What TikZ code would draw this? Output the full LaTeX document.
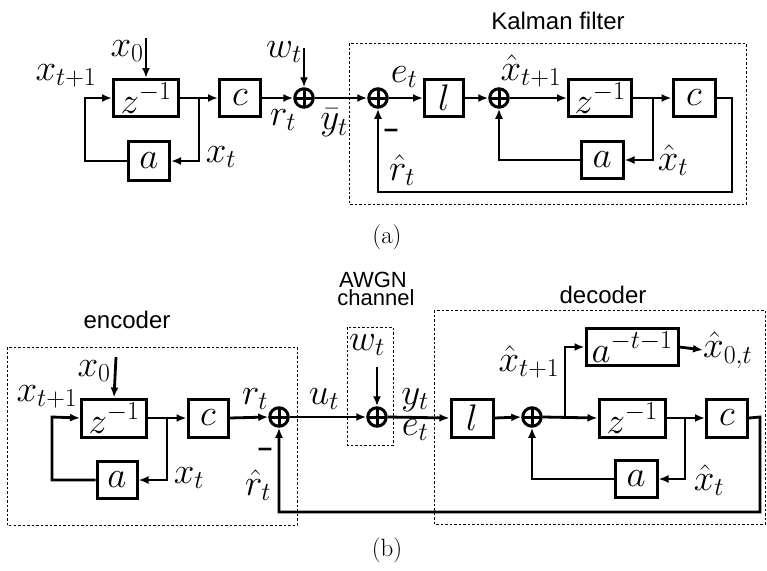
\RequirePackage{fix-cm}
\documentclass[tikz,border=0pt]{standalone}
\usepackage{fontspec}
\newfontfamily\labfont{Liberation Sans}
\usetikzlibrary{arrows.meta}
\newcommand\mathfnt{\fontsize{37}{42}\selectfont}
\begin{document}
\begin{tikzpicture}[x=1pt,y=-1pt,
  every node/.style={inner sep=0pt},
  blk/.style={draw,line width=3pt,inner sep=0pt,font=\mathfnt},
  sum/.style={circle,draw,line width=3pt,minimum size=18.5pt,inner sep=0pt,
    path picture={\draw[line width=3pt] (path picture bounding box.north)--(path picture bounding box.south)
      (path picture bounding box.west)--(path picture bounding box.east);}},
  conn/.style={line width=2.8pt},
  arr/.style={conn,-{Latex[length=10pt,width=8pt]}},
  dbox/.style={line width=1pt,dash pattern=on 2.5pt off 2pt},
  lbl/.style={font=\mathfnt},
  txt/.style={font=\fontsize{24}{28}\selectfont\labfont},
  small/.style={font=\fontsize{22}{24}\selectfont\labfont},
  captxt/.style={font=\fontsize{25}{28}\selectfont},
  minus/.style={font=\fontsize{26}{28}\selectfont\labfont\bfseries}]
\useasboundingbox (0,0) rectangle (767,570);

% ---------------- (a) ----------------
\node[blk,minimum width=65pt,minimum height=37pt] (za) at (146,98) {$z^{-1}$};
\node[blk,minimum width=41pt,minimum height=37pt] (ca) at (240,98) {$c$};
\node[blk,minimum width=41pt,minimum height=38.5pt] (aa) at (149,161) {$a$};
\node[sum] (s1) at (304,98) {};
\node[sum] (s2) at (378,98) {};
\node[blk,minimum width=39pt,minimum height=37pt] (la) at (444,98) {$l$};
\node[sum] (s3) at (499,98) {};
\node[blk,minimum width=63pt,minimum height=37pt] (zb) at (600,98) {$z^{-1}$};
\node[blk,minimum width=42pt,minimum height=37pt] (cb) at (694,98) {$c$};
\node[blk,minimum width=42pt,minimum height=37pt] (ab) at (602,160) {$a$};

\coordinate (ja) at (199,98);
\coordinate (lpa) at (85,98);
\coordinate (x0a) at (146,38);
\coordinate (wa) at (304,48);
\coordinate (jb) at (653,98);
\coordinate (ra) at (732,98);
\coordinate (rb) at (732,192);

\draw[arr] (za.east) -- (ca.west);
\draw[arr] (ja) |- (aa.east);
\draw[arr] (aa.west) -| (lpa) -- (za.west);
\draw[arr] (x0a) -- (za.north);
\draw[arr] (ca.east) -- (s1.west);
\draw[arr] (wa) -- (s1.north);
\draw[arr] (s1.east) -- (s2.west);
\draw[arr] (s2.east) -- (la.west);
\draw[arr] (la.east) -- (s3.west);
\draw[arr] (s3.east) -- (zb.west);
\draw[arr] (zb.east) -- (cb.west);
\draw[arr] (jb) |- (ab.east);
\draw[arr] (ab.west) -| (s3.south);
\draw[arr] (cb.east) -- (ra) -- (rb) -| (s2.south);

\draw[dbox] (349,43) rectangle (746,204);

\node[lbl] (lxt1a) at (66,76) {$x_{t+1}$};
\node[lbl] (lx0a) at (127,51) {$x_0$};
\node[lbl] (lxta) at (221,157) {$x_t$};
\node[lbl] (lwa) at (284,52) {$w_t$};
\node[lbl] (lra) at (283,120) {$r_t$};
\node[lbl] (lya) at (334,123) {$\bar{y}_t$};
\node[lbl] (lea) at (404,77) {$e_t$};
\node[lbl] (lxh1a) at (531,71) {$\hat{x}_{t+1}$};
\node[lbl] (lxha) at (673,160) {$\hat{x}_t$};
\node[minus] (ma) at (391,133) {–};
\node[lbl] (lrha) at (402,170) {$\hat{r}_t$};
\node[txt] (kf) at (558,21) {Kalman filter};
\node[captxt] (capa) at (387,237) {(a)};

% ---------------- (b) ----------------
\node[blk,minimum width=65pt,minimum height=38pt] (zc) at (114,418) {$z^{-1}$};
\node[blk,minimum width=40pt,minimum height=38pt] (cc) at (208,418) {$c$};
\node[blk,minimum width=40pt,minimum height=37pt] (ac) at (117,480) {$a$};
\node[sum] (s4) at (279,417) {};
\node[sum] (s5) at (377,417) {};
\node[blk,minimum width=42pt,minimum height=38pt] (ld) at (472,418) {$l$};
\node[sum] (s6) at (532,417) {};
\node[blk,minimum width=92pt,minimum height=37pt] (akt) at (632,347) {$a^{-t-1}$};
\node[blk,minimum width=66pt,minimum height=38pt] (zd) at (632,418) {$z^{-1}$};
\node[blk,minimum width=41pt,minimum height=38pt] (cd) at (727,418) {$c$};
\node[blk,minimum width=42pt,minimum height=37pt] (ad) at (636,479) {$a$};
\node[lbl,anchor=west] (lx0t) at (703,350) {$\hat{x}_{0,t}$};

\coordinate (jc) at (167,417);
\coordinate (lpc) at (52,417);
\coordinate (x0c) at (116,357);
\coordinate (wc) at (377,367);
\coordinate (jd) at (565,417);
\coordinate (je) at (685,417);
\coordinate (rc) at (760,417);
\coordinate (rd) at (760,512);

\draw[arr] (zc.east) -- (cc.west);
\draw[arr] (jc) |- (ac.east);
\draw[arr] (ac.west) -| (lpc) -- (zc.west);
\draw[arr] (x0c) -- (zc.north);
\draw[arr] (cc.east) -- (s4.west);
\draw[arr] (s4.east) -- (s5.west);
\draw[arr] (wc) -- (s5.north);
\draw[arr] (s5.east) -- (ld.west);
\draw[arr] (ld.east) -- (s6.west);
\draw[arr] (s6.east) -- (zd.west);
\draw[arr] (jd) |- (akt.west);
\draw[arr] (akt.east) -- (lx0t.west);
\draw[arr] (zd.east) -- (cd.west);
\draw[arr] (je) |- (ad.east);
\draw[arr] (ad.west) -| (s6.south);
\draw[arr] (cd.east) -- (rc) -- (rd) -| (s4.south);

\draw[dbox] (7,347) rectangle (297,525);
\draw[dbox] (347,327) rectangle (393,445);
\draw[dbox] (434,310) rectangle (765,524);

\node[txt] (enc) at (127,320) {encoder};
\node[small] (awgn) at (373,280) {AWGN};
\node[small] (chan) at (376,298) {channel};
\node[txt] (dec) at (603,295) {decoder};
\node[lbl] (lx0c) at (94,371) {$x_0$};
\node[lbl] (lxt1c) at (47,397) {$x_{t+1}$};
\node[lbl] (lxtc) at (189,478) {$x_t$};
\node[lbl] (lrc) at (255,399) {$r_t$};
\node[minus] (mc) at (265,452) {–};
\node[lbl] (lrhc) at (258,485) {$\hat{r}_t$};
\node[lbl] (luc) at (324,399) {$u_t$};
\node[lbl] (lwc) at (367,345) {$w_t$};
\node[lbl] (lyc) at (415,400) {$y_t$};
\node[lbl] (lec) at (415,430) {$e_t$};
\node[lbl] (lxh1d) at (529,362) {$\hat{x}_{t+1}$};
\node[lbl] (lxhd) at (709,480) {$\hat{x}_t$};
\node[captxt] (capb) at (387,550) {(b)};
\end{tikzpicture}
\end{document}
